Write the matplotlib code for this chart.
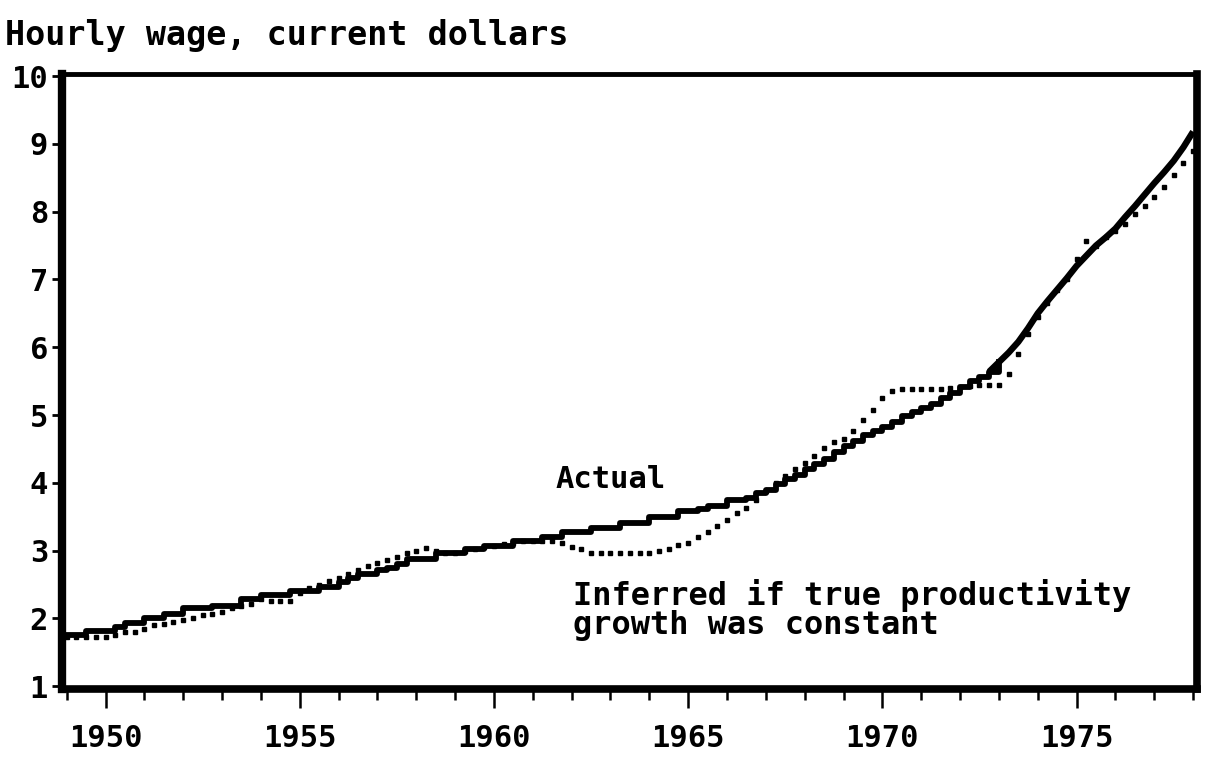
import numpy as np
import matplotlib
matplotlib.use("Agg")
import matplotlib.pyplot as plt
from matplotlib.ticker import MultipleLocator

# quarterly readings, 1949 Q1 .. 1978 Q1
START_YEAR = 1949
actual_wage = [
    1.75, 1.75, 1.82, 1.82,  # 1949
    1.82, 1.88, 1.93, 1.93,  # 1950
    2.00, 2.00, 2.07, 2.07,  # 1951
    2.15, 2.15, 2.15, 2.19,  # 1952
    2.19, 2.19, 2.28, 2.28,  # 1953
    2.34, 2.34, 2.34, 2.41,  # 1954
    2.41, 2.41, 2.47, 2.47,  # 1955
    2.54, 2.60, 2.66, 2.66,  # 1956
    2.72, 2.75, 2.80, 2.88,  # 1957
    2.88, 2.88, 2.96, 2.96,  # 1958
    2.96, 3.03, 3.03, 3.07,  # 1959
    3.07, 3.07, 3.15, 3.15,  # 1960
    3.15, 3.20, 3.20, 3.27,  # 1961
    3.27, 3.27, 3.34, 3.34,  # 1962
    3.34, 3.41, 3.41, 3.41,  # 1963
    3.49, 3.49, 3.49, 3.59,  # 1964
    3.59, 3.62, 3.66, 3.66,  # 1965
    3.74, 3.74, 3.78, 3.85,  # 1966
    3.90, 3.98, 4.05, 4.12,  # 1967
    4.20, 4.28, 4.35, 4.45,  # 1968
    4.55, 4.62, 4.70, 4.76,  # 1969
    4.82, 4.90, 4.98, 5.04,  # 1970
    5.10, 5.17, 5.25, 5.32,  # 1971
    5.42, 5.50, 5.56, 5.64,  # 1972
    5.78, 5.92, 6.08, 6.28,  # 1973
    6.50, 6.68, 6.85, 7.02,  # 1974
    7.20, 7.35, 7.50, 7.62,  # 1975
    7.75, 7.92, 8.08, 8.25,  # 1976
    8.42, 8.58, 8.75, 8.95,  # 1977
    9.18,                    # 1978
]
inferred_wage = [
    1.72, 1.72, 1.72, 1.72,  # 1949
    1.72, 1.76, 1.80, 1.80,  # 1950
    1.85, 1.90, 1.92, 1.95,  # 1951
    1.98, 2.00, 2.05, 2.07,  # 1952
    2.10, 2.16, 2.18, 2.22,  # 1953
    2.28, 2.26, 2.26, 2.26,  # 1954
    2.38, 2.45, 2.50, 2.55,  # 1955
    2.60, 2.66, 2.72, 2.78,  # 1956
    2.82, 2.86, 2.90, 2.96,  # 1957
    3.00, 3.04, 3.00, 2.97,  # 1958
    2.96, 3.00, 3.03, 3.05,  # 1959
    3.07, 3.10, 3.12, 3.15,  # 1960
    3.15, 3.15, 3.15, 3.12,  # 1961
    3.05, 3.02, 2.97, 2.96,  # 1962
    2.96, 2.96, 2.96, 2.96,  # 1963
    2.97, 3.00, 3.03, 3.08,  # 1964
    3.12, 3.20, 3.28, 3.36,  # 1965
    3.45, 3.55, 3.63, 3.75,  # 1966
    3.88, 4.00, 4.10, 4.20,  # 1967
    4.30, 4.40, 4.52, 4.60,  # 1968
    4.65, 4.76, 4.92, 5.08,  # 1969
    5.25, 5.35, 5.38, 5.38,  # 1970
    5.38, 5.38, 5.38, 5.40,  # 1971
    5.42, 5.43, 5.45, 5.45,  # 1972
    5.45, 5.60, 5.90, 6.20,  # 1973
    6.45, 6.65, 6.85, 7.00,  # 1974
    7.30, 7.56, 7.50, 7.62,  # 1975
    7.72, 7.82, 7.97, 8.08,  # 1976
    8.22, 8.37, 8.54, 8.72,  # 1977
    8.90,                    # 1978
]
y_ticks = [1, 2, 3, 4, 5, 6, 7, 8, 9, 10]
x_major = [1950, 1955, 1960, 1965, 1970, 1975]
STEP_UNTIL = 1973.0  # stair-step look before this, smooth after

t_actual = START_YEAR + np.arange(len(actual_wage)) / 4.0
t_inferred = START_YEAR + np.arange(len(inferred_wage)) / 4.0
actual_arr = np.array(actual_wage)

W, H = 1214, 771
fig = plt.figure(figsize=(W / 100, H / 100), dpi=100)
FONT = "DejaVu Sans Mono"

ax = fig.add_axes([62 / W, 1 - 689 / H, 1135 / W, (689 - 74) / H])
early = t_actual <= STEP_UNTIL
late = t_actual >= STEP_UNTIL - 0.25
ax.plot(t_actual[early], actual_arr[early], drawstyle="steps-post", color="black",
        linewidth=4.2, solid_capstyle="projecting")
ax.plot(t_actual[late], actual_arr[late], color="black",
        linewidth=4.6, solid_capstyle="butt")
ax.plot(t_inferred, inferred_wage, linestyle="none", marker="s",
        markersize=3.4, color="black")

ax.set_xlim(1948.88, 1978.1)
ax.set_ylim(0.96, 10.03)

for side, lw in [("left", 6), ("bottom", 5.5), ("right", 5.5), ("top", 3.5)]:
    ax.spines[side].set_linewidth(lw)
    ax.spines[side].set_color("black")

ax.set_yticks(y_ticks)
ax.set_xticks(x_major)
ax.xaxis.set_minor_locator(MultipleLocator(1))
ax.tick_params(axis="y", direction="out", length=7, width=2, pad=3)
ax.tick_params(axis="x", which="major", direction="out", length=14, width=1.8, pad=11)
ax.tick_params(axis="x", which="minor", direction="out", length=8, width=1.8)
for lab in ax.get_xticklabels() + ax.get_yticklabels():
    lab.set_fontfamily(FONT)
    lab.set_fontweight("bold")
    lab.set_fontsize(22)

fig.text(5 / W, 1 - 35 / H, "Hourly wage, current dollars", fontfamily=FONT,
         fontweight="bold", fontsize=24, ha="left", va="center")
fig.text(611 / W, 1 - 480 / H, "Actual", fontfamily=FONT,
         fontweight="bold", fontsize=22, ha="center", va="center")
fig.text(573 / W, 1 - 610 / H, "Inferred if true productivity\ngrowth was constant",
         fontfamily=FONT, fontweight="bold", fontsize=23, ha="left", va="center",
         linespacing=0.95)

fig.savefig("out.png", dpi=100, facecolor="white")
